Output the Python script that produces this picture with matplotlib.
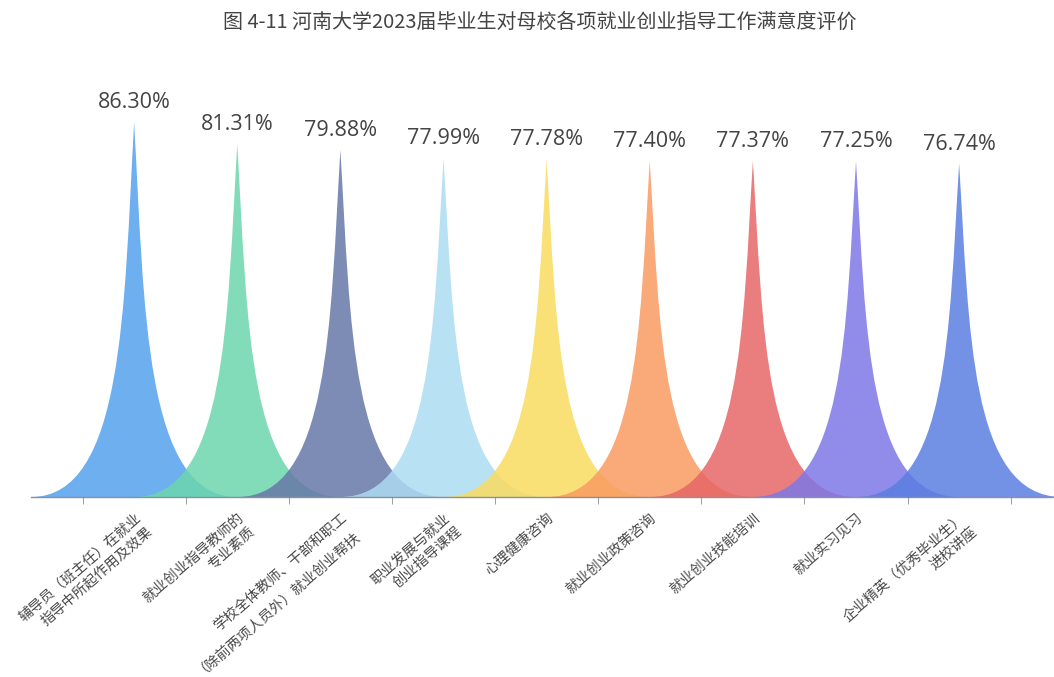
import numpy as np
import matplotlib.pyplot as plt
from matplotlib.path import Path
from matplotlib.patches import PathPatch

plt.rcParams['font.family'] = ['Noto Sans CJK SC', 'DejaVu Sans']

# data
categories = [
    '辅导员（班主任）在就业\n指导中所起作用及效果',
    '就业创业指导教师的\n专业素质',
    '学校全体教师、干部和职工\n（除前两项人员外）就业创业帮扶',
    '职业发展与就业\n创业指导课程',
    '心理健康咨询',
    '就业创业政策咨询',
    '就业创业技能培训',
    '就业实习见习',
    '企业精英（优秀毕业生）\n进校讲座',
]
values = [86.30, 81.31, 79.88, 77.99, 77.78, 77.40, 77.37, 77.25, 76.74]
colors = ['#54A1ED', '#6CD6AD', '#6678A7', '#ADDCF3', '#F9DC60',
          '#F99B60', '#E76666', '#7E78E7', '#5A7EE1']

W, H = 1054, 677
fig = plt.figure(figsize=(W / 100, H / 100), dpi=100)
ax = fig.add_axes([31 / W, 180 / H, 1 - 31 / W, 434.5 / H])
ax.set_xlim(-1.0, 8.92)
ax.set_ylim(0, 100)

# spike symbol: 10x10 box, pointed top (echarts-like path)
sym = [(0, 10), (10, 10), (5.5, 10), (5.5, 5), (5, 0), (4.5, 5), (4.5, 10), (0, 10), (0, 10)]
codes = [Path.MOVETO, Path.LINETO, Path.CURVE4, Path.CURVE4, Path.CURVE4,
         Path.CURVE4, Path.CURVE4, Path.CURVE4, Path.CLOSEPOLY]

for i, (v, c) in enumerate(zip(values, colors)):
    verts = [(i - 1 + px / 5, v * (10 - py) / 10) for px, py in sym]
    ax.add_patch(PathPatch(Path(verts, codes), facecolor=c, edgecolor='none',
                           alpha=0.85, zorder=2))
    ax.annotate(f'{v:.2f}%', (i, v), xytext=(0, 14), textcoords='offset pixels',
                ha='center', va='baseline', fontsize=15.5, color='#444444',
                family=['Open Sans', 'DejaVu Sans'])

# axis
for s in ['left', 'right', 'top']:
    ax.spines[s].set_visible(False)
ax.spines['bottom'].set_color('#8a8f9a')
ax.spines['bottom'].set_linewidth(1)
ax.set_yticks([])
ax.set_xticks(np.arange(-0.5, 9, 1), minor=True)
ax.set_xticks(range(len(categories)))
ax.set_xticklabels(categories, rotation=41, ha='right', va='top',
                   rotation_mode='anchor', multialignment='right',
                   fontsize=10.3, color='#4a4a4a', linespacing=1.3)
ax.tick_params(axis='x', which='major', length=0, pad=10)
ax.tick_params(axis='x', which='minor', length=5, color='#8a8f9a')

fig.text(540 / W, 1 - 22 / H, '图 4-11 河南大学2023届毕业生对母校各项就业创业指导工作满意度评价',
         ha='center', va='center', fontsize=14.4, color='#444444')

fig.savefig('out.png', dpi=100)
